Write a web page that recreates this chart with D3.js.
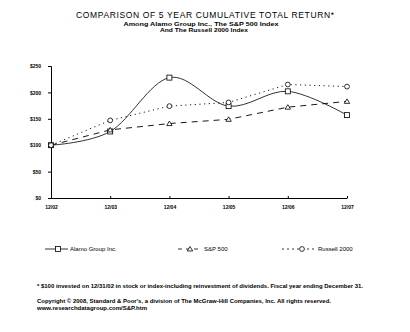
<!DOCTYPE html>
<html>
<head>
<meta charset="utf-8">
<script src="https://cdn.jsdelivr.net/npm/d3@7"></script>
<style>
  body { margin: 0; background: #fff; }
  text { font-family: "Liberation Sans", Arial, sans-serif; fill: #000; }
</style>
</head>
<body>
<div id="chart"></div>
<script>
const years = ["12/02", "12/03", "12/04", "12/05", "12/06", "12/07"];
const alamo = [100, 126, 228, 174, 202, 157];
const sp500 = [100, 129, 141, 149, 172, 183];
const russell = [100, 147, 174, 181, 215, 211];
const yTicks = [0, 50, 100, 150, 200, 250];

const series = [
  { name: "Alamo Group Inc.", values: alamo, dash: null, marker: "square", smooth: true },
  { name: "S&P 500", values: sp500, dash: "6,5", marker: "triangle", smooth: false },
  { name: "Russell 2000", values: russell, dash: "1.2,3.5", marker: "circle", smooth: false },
];

const svg = d3.select("#chart")
  .append("svg")
  .attr("width", 410)
  .attr("height", 332);

const x = d3.scalePoint()
  .domain(years)
  .range([51, 347]);

const y = d3.scaleLinear()
  .domain([0, 250])
  .range([198, 66]);

// titles
svg.append("text")
  .attr("x", 205).attr("y", 18)
  .attr("text-anchor", "middle")
  .attr("textLength", 258).attr("lengthAdjust", "spacing")
  .style("font-size", "8.5px")
  .text("COMPARISON OF 5 YEAR CUMULATIVE TOTAL RETURN*");

svg.append("text")
  .attr("x", 201).attr("y", 25.5)
  .attr("text-anchor", "middle")
  .attr("textLength", 155).attr("lengthAdjust", "spacingAndGlyphs")
  .style("font-size", "5.5px").style("font-weight", "bold")
  .text("Among Alamo Group Inc., The S&P 500 Index");

svg.append("text")
  .attr("x", 204).attr("y", 31.5)
  .attr("text-anchor", "middle")
  .attr("textLength", 88).attr("lengthAdjust", "spacingAndGlyphs")
  .style("font-size", "5.5px").style("font-weight", "bold")
  .text("And The Russell 2000 Index");

// axes
const yAxis = d3.axisLeft(y)
  .tickValues(yTicks)
  .tickSize(3)
  .tickFormat(d => `$${d}`);

const gy = svg.append("g")
  .attr("transform", "translate(51,0)")
  .call(yAxis);
gy.select(".domain").attr("stroke", "#000");
gy.selectAll("text")
  .style("font-size", "5px").style("font-weight", "bold")
  .attr("x", -10);

const xAxis = d3.axisBottom(x)
  .tickSize(-2)
  .tickSizeOuter(0);

const gx = svg.append("g")
  .attr("transform", "translate(0,198)")
  .call(xAxis);
gx.selectAll("text")
  .style("font-size", "5px").style("font-weight", "bold")
  .attr("y", 7);

// lines
const smoothLine = d3.line()
  .x((d, i) => x(years[i]))
  .y(d => y(d))
  .curve(d3.curveCardinal.tension(0));

const straightLine = d3.line()
  .x((d, i) => x(years[i]))
  .y(d => y(d));

series.forEach(s => {
  svg.append("path")
    .datum(s.values)
    .attr("fill", "none")
    .attr("stroke", "#000")
    .attr("stroke-width", s.dash ? 0.9 : 0.8)
    .attr("stroke-dasharray", s.dash)
    .attr("d", s.smooth ? smoothLine : straightLine);
});

function drawMarker(g, type, cx, cy) {
  if (type === "square") {
    g.append("rect")
      .attr("x", cx - 2.5).attr("y", cy - 2.5)
      .attr("width", 5).attr("height", 5)
      .attr("fill", "#fff").attr("stroke", "#000").attr("stroke-width", 0.8);
  } else if (type === "triangle") {
    g.append("path")
      .attr("d", `M${cx},${cy - 2.5}L${cx + 2.7},${cy + 2}L${cx - 2.7},${cy + 2}Z`)
      .attr("fill", "#fff").attr("stroke", "#000").attr("stroke-width", 0.8);
  } else {
    g.append("circle")
      .attr("cx", cx).attr("cy", cy).attr("r", 2.4)
      .attr("fill", "#fff").attr("stroke", "#000").attr("stroke-width", 0.8);
  }
}

series.forEach(s => {
  s.values.forEach((v, i) => {
    drawMarker(svg, s.marker, x(years[i]), y(v));
  });
});

// legend
const legendItems = [
  { x1: 45, x2: 68, mx: 58, tx: 70 },
  { x1: 178, x2: 200, mx: 190, tx: 204 },
  { x1: 282, x2: 315, mx: 302, tx: 318 },
];

series.forEach((s, i) => {
  const li = legendItems[i];
  svg.append("line")
    .attr("x1", li.x1).attr("x2", li.x2)
    .attr("y1", 249).attr("y2", 249)
    .attr("stroke", "#000")
    .attr("stroke-width", 0.8)
    .attr("stroke-dasharray", s.dash ? (i === 1 ? "4,4" : "2,3") : null);
  drawMarker(svg, s.marker, li.mx, 249);
  svg.append("text")
    .attr("x", li.tx).attr("y", 251)
    .style("font-size", "6px")
    .text(s.name);
});

// footnotes
svg.append("text")
  .attr("x", 37).attr("y", 288)
  .attr("textLength", 326).attr("lengthAdjust", "spacingAndGlyphs")
  .style("font-size", "5.5px").style("font-weight", "bold")
  .text("* $100 invested on 12/31/02 in stock or index-including reinvestment of dividends. Fiscal year ending December 31.");

svg.append("text")
  .attr("x", 37).attr("y", 303)
  .attr("textLength", 294).attr("lengthAdjust", "spacingAndGlyphs")
  .style("font-size", "5.5px").style("font-weight", "bold")
  .text("Copyright © 2008, Standard & Poor's, a division of The McGraw-Hill Companies, Inc. All rights reserved.");

svg.append("text")
  .attr("x", 37).attr("y", 310)
  .attr("textLength", 110).attr("lengthAdjust", "spacingAndGlyphs")
  .style("font-size", "5.5px").style("font-weight", "bold")
  .text("www.researchdatagroup.com/S&P.htm");
</script>
</body>
</html>
